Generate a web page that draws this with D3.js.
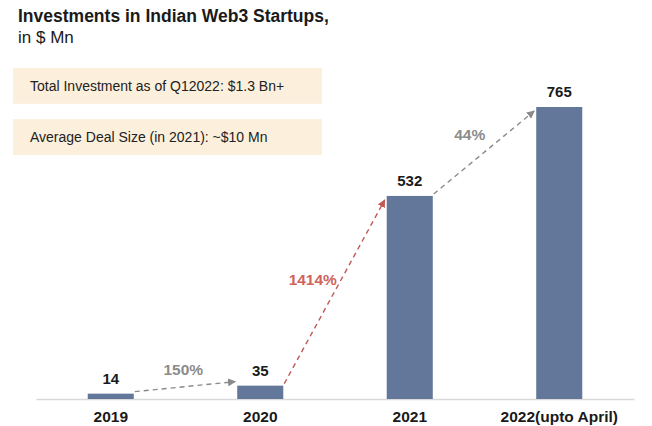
<!DOCTYPE html>
<html><head><meta charset="utf-8">
<script src="https://cdn.jsdelivr.net/npm/d3@7"></script>
<style>body{margin:0;background:#fff;} svg{display:block;font-family:"Liberation Sans",Arial,Helvetica,sans-serif;}</style>
</head><body><svg id="c" width="652" height="426"></svg>
<script>
const categories = ["2019", "2020", "2021", "2022(upto April)"];
const values = [14, 35, 532, 765];
const growthLabels = ["150%", "1414%", "44%"];
const growthHighlight = [false, true, false];
const notes = ["Total Investment as of Q12022: $1.3 Bn+", "Average Deal Size (in 2021): ~$10 Mn"];

const svg = d3.select("#c");
const barColor = "#62779a";
const grayArrow = "#8a8a8a", redArrow = "#c05a55";

// title
svg.append("text").attr("x", 18).attr("y", 22).attr("font-size", 17.5).attr("font-weight", "bold").attr("fill", "#1a1a1a").text("Investments in Indian Web3 Startups,");
svg.append("text").attr("x", 18).attr("y", 43).attr("font-size", 17).attr("fill", "#1a1a1a").text("in $ Mn");

// note boxes
const noteY = d3.scaleBand().domain(notes).range([68, 155]).paddingInner(0.3);
const ng = svg.selectAll("g.note").data(notes).join("g").attr("class", "note");
ng.append("rect").attr("x", 13).attr("y", d => noteY(d)).attr("width", 309).attr("height", noteY.bandwidth()).attr("fill", "#fcf0dc");
ng.append("text").attr("x", 30).attr("y", d => noteY(d) + noteY.bandwidth() / 2 + 5).attr("font-size", 14).attr("fill", "#222").text(d => d);

// scales
const x = d3.scaleBand().domain(categories).range([36, 634]).paddingInner(0.692).paddingOuter(0.346);
const y = d3.scaleLinear().domain([0, 765]).range([399, 107]);

// axis
const ax = svg.append("g").attr("transform", "translate(0,399)").call(d3.axisBottom(x).tickSize(0).tickPadding(12));
ax.select(".domain").attr("stroke", "#d9d9d9").attr("stroke-width", 1.5);
ax.selectAll("text").attr("font-size", 15.5).attr("font-weight", "bold").attr("fill", "#1a1a1a").attr("font-family", "Liberation Sans, Arial, sans-serif");

// bars
svg.selectAll("rect.bar").data(values).join("rect").attr("class", "bar")
  .attr("x", (d, i) => x(categories[i])).attr("width", x.bandwidth())
  .attr("y", d => y(d)).attr("height", d => y(0) - y(d)).attr("fill", barColor);

svg.selectAll("text.val").data(values).join("text").attr("class", "val")
  .attr("x", (d, i) => x(categories[i]) + x.bandwidth() / 2).attr("y", d => y(d) - 10)
  .attr("text-anchor", "middle").attr("font-size", 15).attr("font-weight", "bold").attr("fill", "#1a1a1a").text(d => d);

// arrow markers
const defs = svg.append("defs");
[["g", grayArrow], ["r", redArrow]].forEach(([id, col]) => {
  defs.append("marker").attr("id", "m" + id).attr("viewBox", "0 0 10 10").attr("refX", 9).attr("refY", 5)
    .attr("markerWidth", 8).attr("markerHeight", 8).attr("markerUnits", "userSpaceOnUse").attr("orient", "auto")
    .append("path").attr("d", "M0,0 L10,5 L0,10 Z").attr("fill", col);
});

growthLabels.forEach((lab, i) => {
  const x1 = x(categories[i]) + x.bandwidth() + 1;
  const y1 = y(values[i]) - 2;
  const x2 = x(categories[i + 1]) - 2;
  const y2 = Math.min(y(values[i + 1]) + 4, y1 - 10);
  const col = growthHighlight[i] ? redArrow : grayArrow;
  svg.append("line").attr("x1", x1).attr("y1", y1).attr("x2", x2).attr("y2", y2)
    .attr("stroke", col).attr("stroke-width", 1.4).attr("stroke-dasharray", "5,4")
    .attr("marker-end", `url(#m${growthHighlight[i] ? "r" : "g"})`);
  const dx = x2 - x1, dy = y2 - y1, len = Math.hypot(dx, dy);
  const nx = dy / len, ny = -dx / len;
  const d = 16 + 10 * Math.abs(nx);
  const cx = (x1 + x2) / 2 + nx * d, cy = (y1 + y2) / 2 + ny * d;
  svg.append("text").attr("x", cx).attr("y", cy + 5).attr("text-anchor", "middle")
    .attr("font-size", 15.5).attr("font-weight", "bold").attr("fill", growthHighlight[i] ? "#cf625c" : "#8c8c8c").text(lab);
});
</script></body></html>
